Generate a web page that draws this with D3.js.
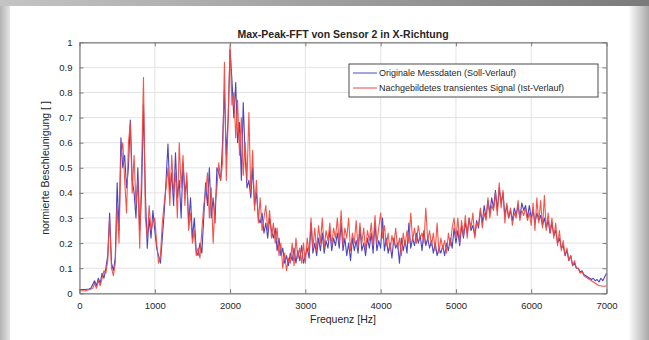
<!DOCTYPE html>
<html>
<head>
<meta charset="utf-8">
<script src="https://cdn.jsdelivr.net/npm/d3@7"></script>
<style>
  body { margin: 0; background: #fff; }
  text { font-family: "Liberation Sans", Arial, sans-serif; fill: #262626; }
</style>
</head>
<body>
<script>
// Frequency axis: one sample every 25 Hz, 0 .. 7000 Hz
var stepHz = 25;
var xTicks = [0, 1000, 2000, 3000, 4000, 5000, 6000, 7000];
var yTicks = [0, 0.1, 0.2, 0.3, 0.4, 0.5, 0.6, 0.7, 0.8, 0.9, 1];
var seriesNames = ["Originale Messdaten (Soll-Verlauf)", "Nachgebildetes transientes Signal (Ist-Verlauf)"];

// Originale Messdaten (Soll-Verlauf)
var sollValues = [
  .015, .015, .015, .015, .016, .017, .02, .035, .05, .03,
  .06, .04, .08, .06, .10, .15, .32, .12, .09, .14,
  .44, .25, .62, .50, .55, .42, .50, .69, .45, .40,
  .30, .50, .25, .40, .75, .40, .18, .30, .22, .33,
  // 1000
  .25, .18, .15, .12, .22, .32, .45, .595, .40, .48,
  .35, .56, .38, .45, .30, .52, .40, .45, .28, .38,
  .22, .30, .17, .15, .20, .16, .30, .44, .35, .50,
  .30, .38, .28, .50, .48, .45, .60, .81, .55, .70,
  // 2000
  .97, .85, .70, .84, .60, .68, .45, .76, .55, .42,
  .45, .38, .50, .35, .40, .30, .28, .32, .24, .28,
  .22, .30, .25, .22, .26, .17, .22, .15, .18, .12,
  .15, .11, .16, .13, .18, .12, .17, .13, .19, .12,
  // 3000
  .15, .18, .14, .28, .16, .20, .15, .22, .17, .24,
  .16, .21, .18, .25, .17, .22, .19, .24, .18, .28,
  .17, .22, .15, .20, .13, .22, .17, .21, .16, .26,
  .17, .20, .15, .22, .18, .24, .16, .28, .17, .21,
  // 4000
  .18, .30, .17, .22, .16, .20, .14, .22, .18, .20,
  .12, .22, .17, .21, .16, .28, .18, .22, .19, .24,
  .20, .23, .17, .25, .19, .22, .18, .21, .16, .20,
  .15, .18, .16, .19, .15, .20, .17, .22, .18, .26,
  // 5000
  .20, .25, .19, .27, .22, .28, .24, .30, .25, .27,
  .23, .29, .26, .33, .28, .35, .30, .37, .32, .38,
  .34, .41, .33, .42, .36, .40, .31, .35, .30, .33,
  .29, .34, .31, .35, .30, .36, .33, .35, .30, .35,
  // 6000
  .30, .33, .28, .32, .29, .31, .27, .30, .26, .29,
  .24, .28, .23, .25, .20, .22, .18, .19, .15, .17,
  .13, .15, .11, .12, .10, .10, .085, .09, .075, .07,
  .065, .06, .055, .06, .05, .055, .045, .06, .05, .065,
  .08
];

// Nachgebildetes transientes Signal (Ist-Verlauf)
var istValues = [
  .01, .01, .01, .01, .012, .014, .016, .02, .04, .02,
  .05, .03, .06, .09, .08, .13, .30, .10, .07, .12,
  .35, .20, .55, .60, .45, .32, .60, .68, .40, .55,
  .35, .45, .18, .50, .86, .30, .22, .35, .25, .28,
  // 1000
  .30, .20, .12, .15, .28, .36, .42, .50, .35, .55,
  .40, .48, .30, .60, .42, .55, .35, .48, .25, .32,
  .20, .25, .15, .18, .14, .25, .35, .40, .48, .30,
  .42, .20, .35, .42, .52, .45, .52, .92, .45, .70,
  // 2000
  .99, .75, .80, .62, .77, .55, .70, .47, .60, .45,
  .72, .40, .57, .33, .45, .28, .38, .25, .30, .35,
  .25, .33, .22, .28, .20, .26, .15, .20, .10, .16,
  .09, .14, .12, .20, .11, .22, .14, .18, .12, .20,
  // 3000
  .12, .22, .16, .30, .18, .26, .17, .27, .20, .30,
  .18, .25, .21, .28, .19, .26, .22, .30, .20, .33,
  .19, .26, .22, .30, .17, .24, .20, .29, .18, .28,
  .20, .26, .17, .25, .21, .28, .19, .31, .20, .26,
  // 4000
  .32, .22, .27, .19, .24, .17, .23, .19, .26, .18,
  .22, .15, .24, .19, .25, .20, .32, .21, .26, .20,
  .27, .22, .24, .20, .34, .21, .25, .19, .24, .17,
  .28, .16, .22, .18, .21, .16, .24, .19, .26, .30,
  // 5000
  .22, .30, .20, .29, .23, .31, .22, .30, .26, .32,
  .22, .28, .27, .34, .26, .32, .29, .38, .30, .35,
  .33, .40, .31, .44, .34, .41, .28, .36, .30, .34,
  .27, .32, .30, .37, .29, .33, .31, .34, .29, .32,
  // 6000
  .27, .36, .25, .38, .28, .37, .26, .39, .25, .32,
  .24, .30, .22, .28, .19, .25, .17, .21, .15, .18,
  .13, .15, .11, .13, .10, .10, .08, .085, .07, .065,
  .06, .055, .05, .045, .04, .035, .03, .03, .028, .028,
  .03
];

var svgWidth = 649;
var svgHeight = 340;

// plot box in page pixels
var margin = { top: 42.3, right: 42.5, bottom: 46.7, left: 79.5 };
var chartWidth = svgWidth - margin.left - margin.right;
var chartHeight = svgHeight - margin.top - margin.bottom;

var svg = d3.select("body")
  .append("svg")
  .attr("width", svgWidth)
  .attr("height", svgHeight);

// grey photo frame round a white sheet
var defs = svg.append("defs");
var frameGrad = defs.append("linearGradient").attr("id", "frameGrad")
  .attr("x1", "0").attr("x2", "1").attr("y1", "0").attr("y2", "0");
frameGrad.append("stop").attr("offset", "0").attr("stop-color", "#c4c4c4");
frameGrad.append("stop").attr("offset", "1").attr("stop-color", "#7a7a7a");
var rightGrad = defs.append("linearGradient").attr("id", "rightGrad")
  .attr("x1", "0").attr("x2", "1").attr("y1", "0").attr("y2", "0");
rightGrad.append("stop").attr("offset", "0").attr("stop-color", "#ffffff");
rightGrad.append("stop").attr("offset", "1").attr("stop-color", "#a8a8a8");
var leftGrad = defs.append("linearGradient").attr("id", "leftGrad")
  .attr("x1", "0").attr("x2", "1").attr("y1", "0").attr("y2", "0");
leftGrad.append("stop").attr("offset", "0").attr("stop-color", "#b4b4b4");
leftGrad.append("stop").attr("offset", "1").attr("stop-color", "#e4e4e4");

svg.append("rect").attr("width", svgWidth).attr("height", svgHeight).attr("fill", "url(#frameGrad)");
svg.append("rect").attr("x", 0).attr("y", 6).attr("width", 10).attr("height", svgHeight - 6).attr("fill", "url(#leftGrad)");
svg.append("rect").attr("x", 10).attr("y", 6).attr("width", 620).attr("height", svgHeight - 6).attr("fill", "#ffffff");
svg.append("rect").attr("x", 628).attr("y", 6).attr("width", 21).attr("height", svgHeight - 6).attr("fill", "url(#rightGrad)");

var chartGroup = svg.append("g")
  .attr("transform", `translate(${margin.left}, ${margin.top})`);

var xScale = d3.scaleLinear().domain([0, 7000]).range([0, chartWidth]);
var yScale = d3.scaleLinear().domain([0, 1]).range([chartHeight, 0]);

// grid
chartGroup.append("g")
  .selectAll("line.gx")
  .data(xTicks)
  .enter().append("line")
  .attr("x1", d => xScale(d)).attr("x2", d => xScale(d))
  .attr("y1", 0).attr("y2", chartHeight)
  .attr("stroke", "#e3e3e3").attr("stroke-width", 1);
chartGroup.append("g")
  .selectAll("line.gy")
  .data(yTicks)
  .enter().append("line")
  .attr("x1", 0).attr("x2", chartWidth)
  .attr("y1", d => yScale(d)).attr("y2", d => yScale(d))
  .attr("stroke", "#e3e3e3").attr("stroke-width", 1);

// data lines
var sollData = sollValues.map((v, i) => ({ f: i * stepHz, v: v }));
var istData = istValues.map((v, i) => ({ f: i * stepHz, v: v }));

var drawLine = d3.line()
  .x(d => xScale(d.f))
  .y(d => yScale(d.v));

chartGroup.append("path")
  .attr("d", drawLine(sollData))
  .attr("fill", "none")
  .attr("stroke", "#4a46c4")
  .attr("stroke-width", 1.1)
  .attr("stroke-linejoin", "round");

chartGroup.append("path")
  .attr("d", drawLine(istData))
  .attr("fill", "none")
  .attr("stroke", "#f2473c")
  .attr("stroke-width", 1.1)
  .attr("stroke-linejoin", "round")
  .attr("opacity", 0.92);

// axes, MATLAB style box with inward ticks on all sides
var bottomAxis = d3.axisBottom(xScale).tickValues(xTicks).tickSizeInner(-4).tickSizeOuter(0).tickPadding(9)
  .tickFormat(d3.format("d"));
var leftAxis = d3.axisLeft(yScale).tickValues(yTicks).tickSizeInner(-4).tickSizeOuter(0).tickPadding(7)
  .tickFormat(d3.format("~g"));
var topAxis = d3.axisTop(xScale).tickValues(xTicks).tickSizeInner(-4).tickSizeOuter(0).tickFormat("");
var rightAxis = d3.axisRight(yScale).tickValues(yTicks).tickSizeInner(-4).tickSizeOuter(0).tickFormat("");

var gx = chartGroup.append("g").attr("transform", "translate(0, " + chartHeight + ")").call(bottomAxis);
var gy = chartGroup.append("g").call(leftAxis);
var gt = chartGroup.append("g").call(topAxis);
var gr = chartGroup.append("g").attr("transform", "translate(" + chartWidth + ", 0)").call(rightAxis);

[gx, gy, gt, gr].forEach(function (g) {
  g.selectAll(".domain").attr("stroke", "#7a7a7a").attr("stroke-width", 1.2);
  g.selectAll(".tick line").attr("stroke", "#7a7a7a");
  g.selectAll(".tick text").style("font-size", "9.5px").attr("fill", "#262626");
});

// title and axis labels
svg.append("text")
  .attr("x", 343).attr("y", 38)
  .attr("text-anchor", "middle")
  .style("font-size", "10.5px").style("font-weight", "bold")
  .text("Max-Peak-FFT von Sensor 2 in X-Richtung");

svg.append("text")
  .attr("x", 343).attr("y", 323)
  .attr("text-anchor", "middle")
  .style("font-size", "10.5px")
  .text("Frequenz [Hz]");

svg.append("text")
  .attr("transform", "translate(49, 168) rotate(-90)")
  .attr("text-anchor", "middle")
  .style("font-size", "10.5px")
  .text("normierte Beschleunigung [ ]");

// legend
var legend = svg.append("g").attr("transform", "translate(349, 64)");
legend.append("rect")
  .attr("width", 249).attr("height", 33)
  .attr("fill", "#ffffff").attr("stroke", "#4a4a4a").attr("stroke-width", 1);
var legendColors = ["#4a46c4", "#f2473c"];
seriesNames.forEach(function (name, i) {
  var row = legend.append("g").attr("transform", "translate(0, " + (9 + i * 15) + ")");
  row.append("line").attr("x1", 4).attr("x2", 28).attr("y1", 0).attr("y2", 0)
    .attr("stroke", legendColors[i]).attr("stroke-width", 1);
  row.append("text").attr("x", 30).attr("y", 3.3)
    .style("font-size", "9px")
    .text(name);
});
</script>
</body>
</html>
